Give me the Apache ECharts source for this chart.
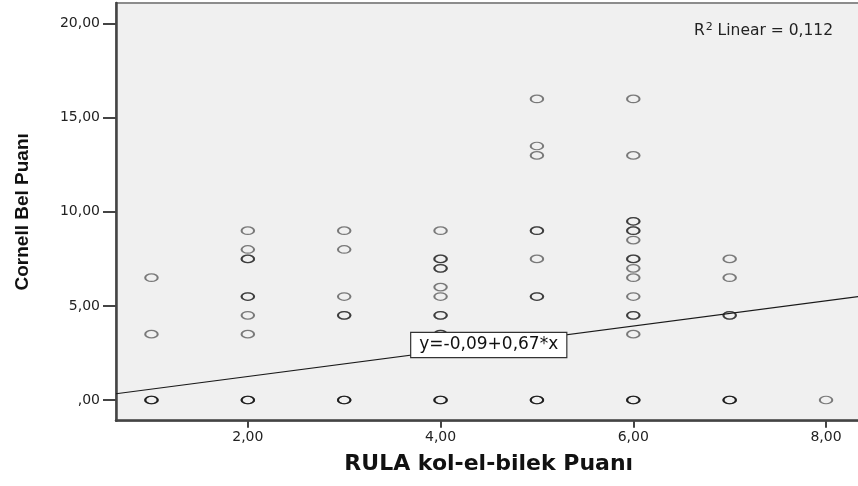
<!DOCTYPE html>
<html>
<head>
<meta charset="utf-8">
<script src="https://cdn.jsdelivr.net/npm/echarts@6/dist/echarts.min.js"></script>
<style>
html,body{margin:0;padding:0;background:#fff;}
#chart{width:858px;height:486px;}
</style>
</head>
<body>
<div id="chart"></div>
<script>
// ---- data ----
const xAxisName = 'RULA kol-el-bilek Puanı';
const yAxisName = 'Cornell Bel Puanı';
const r2Text = 'Linear = 0,112';
const fitLabel = 'y=-0,09+0,67*x';
const fitIntercept = -0.09;
const fitSlope = 0.67;

const rulaScores = [1, 2, 3, 4, 5, 6, 7, 8];
const cornellAt1 = [6.5, 3.5, 0, 0, 0];
const cornellAt2 = [9, 8, 7.5, 7.5, 5.5, 5.5, 4.5, 3.5, 0, 0, 0];
const cornellAt3 = [9, 8, 5.5, 4.5, 4.5, 0, 0, 0];
const cornellAt4 = [9, 7.5, 7.5, 7, 7, 6, 5.5, 4.5, 4.5, 3.5, 3.5, 0, 0, 0];
const cornellAt5 = [16, 13.5, 13, 9, 9, 7.5, 5.5, 5.5, 0, 0, 0];
const cornellAt6 = [16, 13, 9.5, 9.5, 9, 9, 8.5, 7.5, 7.5, 7, 6.5, 5.5, 4.5, 4.5, 3.5, 0, 0, 0];
const cornellAt7 = [7.5, 6.5, 4.5, 4.5, 0, 0, 0];
const cornellAt8 = [0];

const xTickValues = [2, 4, 6, 8];
const xTickLabels = ['2,00', '4,00', '6,00', '8,00'];
const yTickValues = [0, 5, 10, 15, 20];
const yTickLabels = [',00', '5,00', '10,00', '15,00', '20,00'];

const xMin = 0.632, xMax = 8.368;
const yMin = -1.1, yMax = 21.1;

// ---- build ----
const columns = [cornellAt1, cornellAt2, cornellAt3, cornellAt4, cornellAt5, cornellAt6, cornellAt7, cornellAt8];
const points = [];
columns.forEach((arr, i) => arr.forEach(v => points.push([rulaScores[i], v])));

const fitLine = [[xMin, fitIntercept + fitSlope * xMin], [xMax, fitIntercept + fitSlope * xMax]];
const labelX = 4.5;

const chart = echarts.init(document.getElementById('chart'), null, {renderer: 'canvas'});
const ellipse = 'path://M0,4.5A6.5,4.5 0 1,0 13,4.5A6.5,4.5 0 1,0 0,4.5Z';

chart.setOption({
  animation: false,
  backgroundColor: '#ffffff',
  title: {
    text: '{s|R}{sup|2}{s| ' + r2Text + '}',
    right: 25, top: 22, padding: 0,
    textStyle: {
      fontWeight: 'normal',
      rich: {
        s: {fontFamily: 'DejaVu Sans', fontSize: 15.5, fontWeight: 'normal', color: '#222', verticalAlign: 'bottom', lineHeight: 17},
        sup: {fontFamily: 'DejaVu Sans', fontSize: 11, fontWeight: 'normal', color: '#222', verticalAlign: 'top', lineHeight: 17, padding: [0, 0, 6, 1]}
      }
    }
  },
  grid: {
    left: 116, top: 3, width: 745.5, height: 417.7,
    outerBoundsMode: 'none', containLabel: false,
    show: true, backgroundColor: '#f0f0f0', borderColor: '#8c8c8c', borderWidth: 2
  },
  xAxis: {
    type: 'value', min: xMin, max: xMax,
    name: xAxisName, nameLocation: 'middle', nameGap: 33,
    nameTextStyle: {fontFamily: 'DejaVu Sans', fontWeight: 'bold', fontSize: 22, color: '#111'},
    axisLine: {show: true, onZero: false, lineStyle: {color: '#444', width: 2.5}},
    axisTick: {show: true, customValues: xTickValues, length: 7, lineStyle: {color: '#444', width: 2}},
    axisLabel: {
      customValues: xTickValues, margin: 10,
      fontFamily: 'DejaVu Sans', fontSize: 14, color: '#222',
      formatter: v => xTickLabels[xTickValues.indexOf(v)]
    },
    splitLine: {show: false}
  },
  yAxis: {
    type: 'value', min: yMin, max: yMax,
    name: yAxisName, nameLocation: 'middle', nameGap: 84, nameRotate: 90,
    nameTextStyle: {fontFamily: '"Liberation Sans Narrow", "Liberation Sans", Arial, sans-serif', fontWeight: 'bold', fontSize: 19, color: '#111'},
    axisLine: {show: true, onZero: false, lineStyle: {color: '#444', width: 2.5}},
    axisTick: {show: true, customValues: yTickValues, length: 13, lineStyle: {color: '#444', width: 2}},
    axisLabel: {
      customValues: yTickValues, margin: 16,
      fontFamily: 'DejaVu Sans', fontSize: 14, color: '#222',
      formatter: v => yTickLabels[yTickValues.indexOf(v)]
    },
    splitLine: {show: false}
  },
  series: [
    {
      type: 'scatter',
      data: points,
      symbol: ellipse,
      symbolSize: [12.5, 7.5],
      itemStyle: {color: 'rgba(0,0,0,0)', borderColor: 'rgba(0,0,0,0.62)', borderWidth: 1.6},
      emphasis: {disabled: true},
      silent: true,
      z: 2
    },
    {
      type: 'line',
      data: fitLine,
      symbol: 'none',
      lineStyle: {color: '#1a1a1a', width: 1.2},
      silent: true,
      z: 3,
      markPoint: {
        symbol: 'rect', symbolSize: 0,
        silent: true,
        data: [{coord: [labelX, fitIntercept + fitSlope * labelX]}],
        label: {
          show: true, position: 'inside',
          formatter: fitLabel,
          fontFamily: 'DejaVu Sans', fontSize: 17, color: '#111', lineHeight: 18,
          backgroundColor: '#ffffff', borderColor: '#333', borderWidth: 1.2,
          padding: [3, 8, 3, 8]
        },
        z: 10
      }
    }
  ]
});
</script>
</body>
</html>
